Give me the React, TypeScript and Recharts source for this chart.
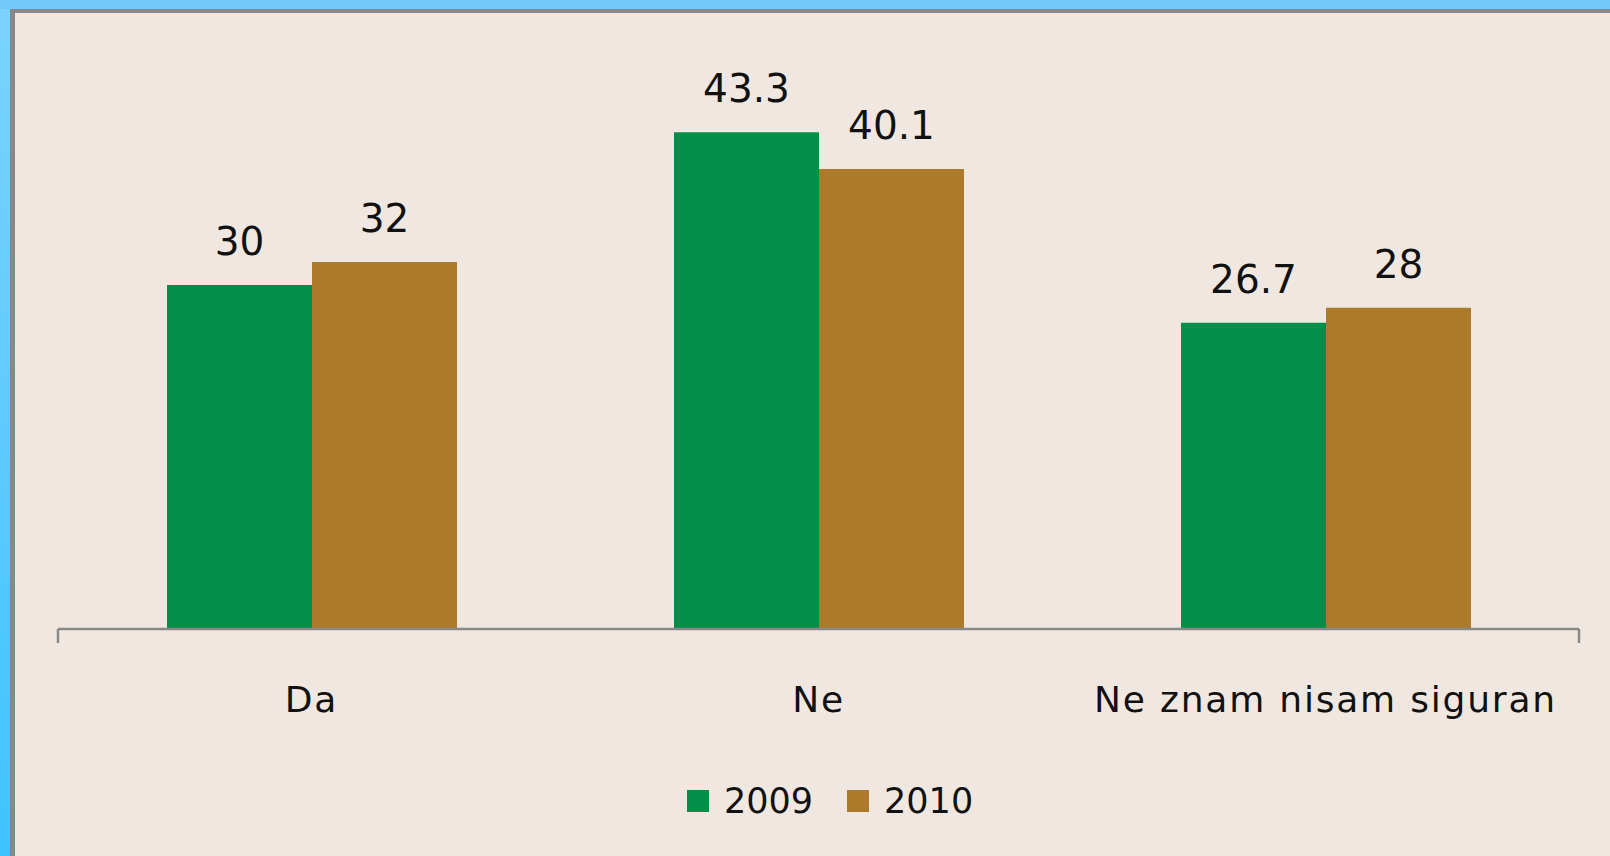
import React from 'react';
import { BarChart, Bar, XAxis, YAxis, LabelList, Legend, ReferenceLine } from 'recharts';

const categories = ['Da', 'Ne', 'Ne znam nisam siguran'];
const values2009 = [30, 43.3, 26.7];
const values2010 = [32, 40.1, 28];
const seriesNames = ['2009', '2010'];

const data = categories.map((c, i) => ({ name: c, y2009: values2009[i], y2010: values2010[i] }));

const GREEN = '#038F47';
const BROWN = '#AD792B';
const FONT = '"DejaVu Sans", sans-serif';

const LegendContent = (props: any) => {
  const payload = props.payload || [];
  return (
    <div style={{ display: 'flex', alignItems: 'center', fontFamily: FONT, fontSize: 35, color: '#111' }}>
      {payload.map((p: any, i: number) => (
        <div key={i} style={{ display: 'flex', alignItems: 'center', marginRight: 34 }}>
          <div style={{ width: 22, height: 22, background: p.color }} />
          <span style={{ marginLeft: 15, lineHeight: '40px' }}>{p.value}</span>
        </div>
      ))}
    </div>
  );
};

export default function App() {
  return (
    <div style={{ position: 'absolute', left: 0, top: 0, width: 1610, height: 856, background: '#73C8FA', overflow: 'hidden' }}>
      <div style={{ position: 'absolute', left: 0, top: 9, width: 10, bottom: 0, background: 'linear-gradient(#7CD2FF, #3FC3FF)' }} />
      <div style={{ position: 'absolute', left: 10, top: 9, right: 0, bottom: 0, background: '#888888' }} />
      <div style={{ position: 'absolute', left: 15, top: 13, right: 0, bottom: 0, background: '#F0E8E0' }} />
      <div style={{ position: 'absolute', left: 0, top: 0 }}>
        <BarChart
          width={1610}
          height={856}
          data={data}
          margin={{ top: 55.5, right: 31, left: 58, bottom: 127 }}
          barCategoryGap={109}
          barGap={0}
        >
          <XAxis
            dataKey="name"
            height={100}
            tickLine={false}
            tickSize={0}
            tickMargin={57}
            axisLine={{ stroke: '#888888', strokeWidth: 2.5 }}
            tick={{ fill: '#111', fontSize: 36, fontFamily: FONT, letterSpacing: 1.8 }}
            interval={0}
          />
          <YAxis hide domain={[0, 50]} />
          <Bar dataKey="y2009" name={seriesNames[0]} fill={GREEN} isAnimationActive={false}>
            <LabelList dataKey="y2009" position="top" offset={30} fill="#111" fontSize={39} fontFamily={FONT} />
          </Bar>
          <Bar dataKey="y2010" name={seriesNames[1]} fill={BROWN} isAnimationActive={false}>
            <LabelList dataKey="y2010" position="top" offset={30} fill="#111" fontSize={39} fontFamily={FONT} />
          </Bar>
          <ReferenceLine
            segment={[{ x: categories[0], y: 0 }, { x: categories[0], y: -1.22 }]}
            position="start"
            ifOverflow="visible"
            stroke="#888888"
            strokeWidth={2.5}
          />
          <ReferenceLine
            segment={[{ x: categories[2], y: 0 }, { x: categories[2], y: -1.22 }]}
            position="end"
            ifOverflow="visible"
            stroke="#888888"
            strokeWidth={2.5}
          />
          <Legend
            verticalAlign="middle"
            align="center"
            layout="horizontal"
            content={<LegendContent />}
            wrapperStyle={{ left: 687, top: 781, width: 400, height: 40 }}
          />
        </BarChart>
      </div>
    </div>
  );
}
